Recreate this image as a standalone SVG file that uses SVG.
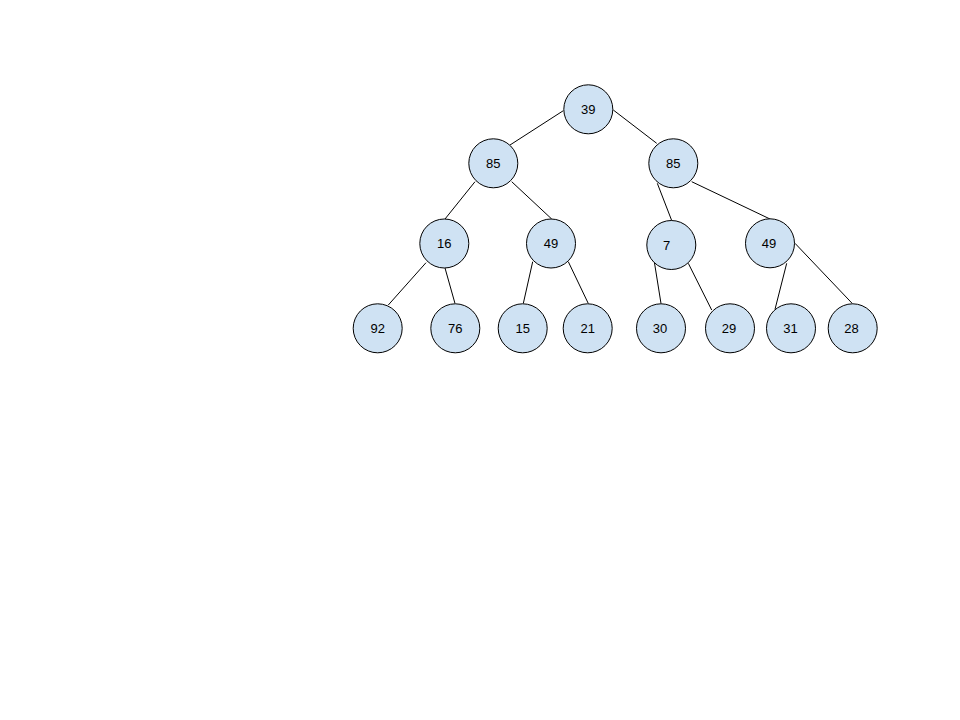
<svg xmlns="http://www.w3.org/2000/svg" width="960" height="720" viewBox="0 0 960 720">
<style>
.n circle{fill:#cfe2f3;stroke:#000;stroke-width:1}
.n text{font-family:"Liberation Sans",Arial,sans-serif;font-size:13px;fill:#000;text-anchor:middle;dominant-baseline:central}
.e line{stroke:#000;stroke-width:1}
</style>
<rect width="960" height="720" fill="#fff"/>
<g id="edges" class="e">
<line x1="563.3" y1="110.7" x2="510" y2="145"/>
<line x1="613.3" y1="110" x2="656.7" y2="143.3"/>
<line x1="475" y1="181.7" x2="445" y2="219"/>
<line x1="511.7" y1="181.7" x2="551.7" y2="219"/>
<line x1="657.3" y1="183.3" x2="671.7" y2="220.5"/>
<line x1="691.7" y1="181.7" x2="770" y2="219"/>
<line x1="426" y1="262.7" x2="388.3" y2="305"/>
<line x1="445" y1="268" x2="455" y2="303.5"/>
<line x1="532.7" y1="261.7" x2="523.3" y2="303.5"/>
<line x1="568.3" y1="261.7" x2="588.3" y2="303.5"/>
<line x1="654.3" y1="261.7" x2="661" y2="303.5"/>
<line x1="688.3" y1="263.3" x2="711.7" y2="310"/>
<line x1="786.7" y1="263.3" x2="775" y2="309.3"/>
<line x1="795" y1="243.3" x2="852.3" y2="303.5"/>
</g>
<g id="n39" class="n"><circle cx="588.3" cy="109.3" r="24.5"/><text x="588.3" y="109.3">39</text></g>
<g id="n85a" class="n"><circle cx="493.3" cy="163.3" r="24.5"/><text x="493.3" y="163.3">85</text></g>
<g id="n85b" class="n"><circle cx="673.3" cy="163.3" r="24.5"/><text x="673.3" y="163.3">85</text></g>
<g id="n16" class="n"><circle cx="444.3" cy="243.5" r="24.5"/><text x="444.3" y="243.5">16</text></g>
<g id="n49a" class="n"><circle cx="551" cy="243.5" r="24.5"/><text x="551" y="243.5">49</text></g>
<g id="n7" class="n"><circle cx="671.3" cy="245" r="24.5"/><text x="666.5" y="245.5">7</text></g>
<g id="n49b" class="n"><circle cx="770" cy="243.3" r="24.5"/><text x="769" y="243.3">49</text></g>
<g id="n92" class="n"><circle cx="377.7" cy="328.3" r="24.5"/><text x="377.7" y="328.3">92</text></g>
<g id="n76" class="n"><circle cx="455.3" cy="328.3" r="24.5"/><text x="455.3" y="328.3">76</text></g>
<g id="n15" class="n"><circle cx="522.7" cy="328.3" r="24.5"/><text x="522.7" y="328.3">15</text></g>
<g id="n21" class="n"><circle cx="587.7" cy="328.3" r="24.5"/><text x="587.7" y="328.3">21</text></g>
<g id="n30" class="n"><circle cx="661" cy="328.3" r="24.5"/><text x="660" y="328.3">30</text></g>
<g id="n29" class="n"><circle cx="730" cy="328.3" r="24.5"/><text x="729" y="328.3">29</text></g>
<g id="n31" class="n"><circle cx="791" cy="328.3" r="24.5"/><text x="790.5" y="328.3">31</text></g>
<g id="n28" class="n"><circle cx="852.7" cy="328.3" r="24.5"/><text x="851.5" y="328.3">28</text></g>
</svg>
